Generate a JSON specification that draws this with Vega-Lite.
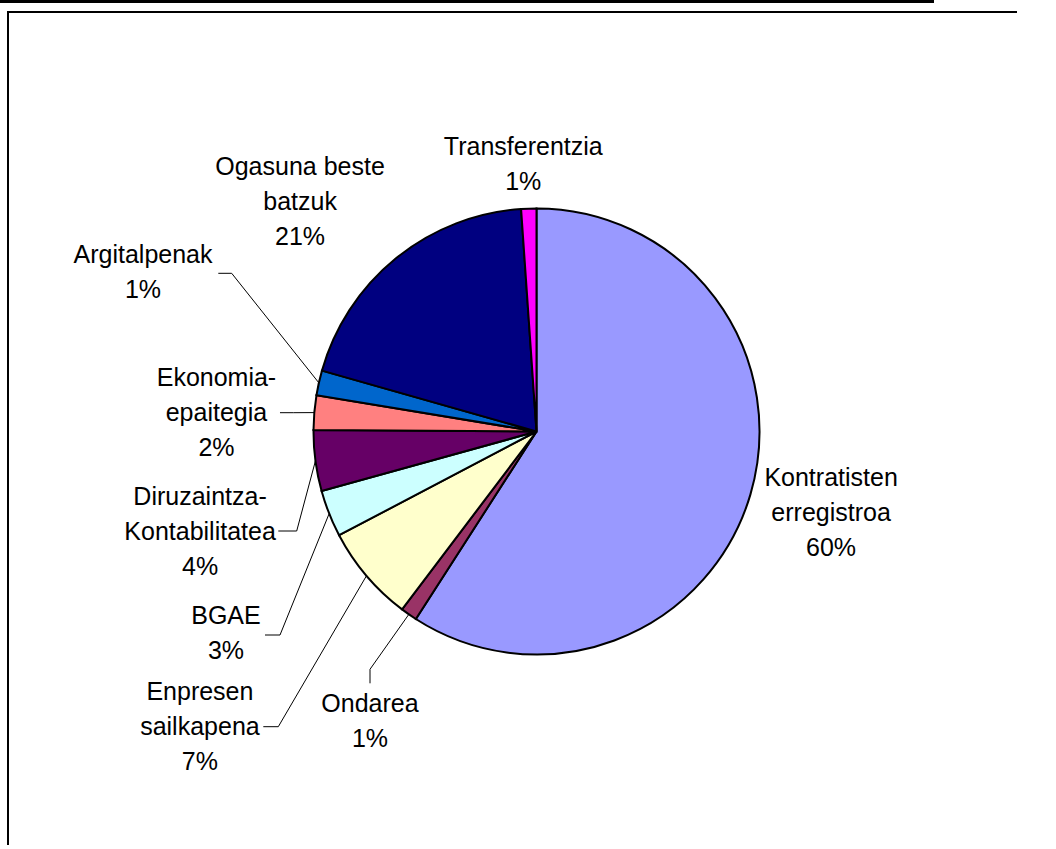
{
  "$schema": "https://vega.github.io/schema/vega-lite/v6.json",
  "padding": 0,
  "background": "white",
  "bounds": "flush",
  "spacing": 8,
  "config": {"view": {"stroke": null}, "text": {"font": "Liberation Sans", "fontSize": 25, "lineHeight": 35, "fill": "black", "lineBreak": "\n", "align": "center", "baseline": "middle"}},
  "datasets": {
    "slices": [
      {"order": 1, "name": "Kontratisten erregistroa", "value": 59.1, "label": "Kontratisten\nerregistroa\n60%"},
      {"order": 2, "name": "Ondarea", "value": 1.2, "label": "Ondarea\n1%"},
      {"order": 3, "name": "Enpresen sailkapena", "value": 7.0, "label": "Enpresen\nsailkapena\n7%"},
      {"order": 4, "name": "BGAE", "value": 3.4, "label": "BGAE\n3%"},
      {"order": 5, "name": "Diruzaintza-Kontabilitatea", "value": 4.4, "label": "Diruzaintza-\nKontabilitatea\n4%"},
      {"order": 6, "name": "Ekonomia-epaitegia", "value": 2.5, "label": "Ekonomia-\nepaitegia\n2%"},
      {"order": 7, "name": "Argitalpenak", "value": 1.8, "label": "Argitalpenak\n1%"},
      {"order": 8, "name": "Ogasuna beste batzuk", "value": 19.5, "label": "Ogasuna beste\nbatzuk\n21%"},
      {"order": 9, "name": "Transferentzia", "value": 1.1, "label": "Transferentzia\n1%"}
    ]
  },
  "vconcat": [
    {
      "width": 934, "height": 3,
      "view": {"fill": "black", "stroke": null},
      "data": {"values": []},
      "mark": {"type": "text", "text": ""},
      "encoding": {}
    },
    {
      "spacing": 6,
      "bounds": "flush",
      "hconcat": [
        {
          "width": 1, "height": 1,
          "view": {"stroke": null},
          "data": {"values": []},
          "mark": {"type": "text", "text": ""},
          "encoding": {}
        },
        {
          "spacing": 0,
          "bounds": "flush",
          "vconcat": [
            {
              "width": 1010, "height": 2,
              "view": {"fill": "black", "stroke": null},
              "data": {"values": []},
              "mark": {"type": "text", "text": ""},
              "encoding": {}
            },
            {
              "spacing": 0,
              "bounds": "flush",
              "hconcat": [
                {
                  "width": 2, "height": 832,
                  "view": {"fill": "black", "stroke": null},
                  "data": {"values": []},
                  "mark": {"type": "text", "text": ""},
                  "encoding": {}
                },
                {
                  "width": 1008, "height": 832,
                  "view": {"stroke": null},
                  "data": {"name": "slices"},
                  "transform": [
                    {"stack": "value", "groupby": [], "sort": [{"field": "order", "order": "ascending"}], "as": ["s0", "s1"]},
                    {"calculate": "(datum.s0 + datum.s1) / 2", "as": "mid"},
                    {"calculate": "PI * (datum.s0 + datum.s1) / 100", "as": "ang"}
                  ],
                  "layer": [
                    {
                      "mark": {"type": "arc", "outerRadius": 223, "x": 527.5, "y": 418.5, "stroke": "black", "strokeWidth": 2},
                      "encoding": {
                        "theta": {"field": "s0", "type": "quantitative", "scale": {"domain": [0, 100]}, "stack": null},
                        "theta2": {"field": "s1"},
                        "color": {
                          "field": "name", "type": "nominal", "legend": null,
                          "scale": {
                            "domain": ["Kontratisten erregistroa", "Ondarea", "Enpresen sailkapena", "BGAE", "Diruzaintza-Kontabilitatea", "Ekonomia-epaitegia", "Argitalpenak", "Ogasuna beste batzuk", "Transferentzia"],
                            "range": ["#9999FF", "#993366", "#FFFFCC", "#CCFFFF", "#660066", "#FF8080", "#0066CC", "#000080", "#FF00FF"]
                          }
                        }
                      }
                    },
                    {
                      "transform": [
                        {"filter": "indexof(['Argitalpenak', 'Ekonomia-epaitegia', 'Diruzaintza-Kontabilitatea', 'BGAE', 'Enpresen sailkapena', 'Ondarea'], datum.name) >= 0"},
                        {"calculate": "527.5 + 223 * sin(datum.ang)", "as": "ex"},
                        {"calculate": "418.5 - 223 * cos(datum.ang)", "as": "ey"},
                        {"calculate": "datum.name === 'Argitalpenak' ? 222.7 : datum.name === 'Ekonomia-epaitegia' ? 284.3 : datum.name === 'Diruzaintza-Kontabilitatea' ? 287.7 : datum.name === 'BGAE' ? 271 : datum.name === 'Enpresen sailkapena' ? 269.3 : 361", "as": "bx"},
                        {"calculate": "datum.name === 'Argitalpenak' ? 260.3 : datum.name === 'Ekonomia-epaitegia' ? 399.7 : datum.name === 'Diruzaintza-Kontabilitatea' ? 518 : datum.name === 'BGAE' ? 622 : datum.name === 'Enpresen sailkapena' ? 713.7 : 656.3", "as": "by"},
                        {"calculate": "datum.name === 'Argitalpenak' ? 209.3 : datum.name === 'Ekonomia-epaitegia' ? 271 : datum.name === 'Diruzaintza-Kontabilitatea' ? 269.3 : datum.name === 'BGAE' ? 256 : datum.name === 'Enpresen sailkapena' ? 254.3 : 361", "as": "tx"},
                        {"calculate": "datum.name === 'Ondarea' ? 670.3 : datum.by", "as": "ty"}
                      ],
                      "layer": [
                        {
                          "mark": {"type": "rule", "stroke": "black", "strokeWidth": 1},
                          "encoding": {
                            "x": {"field": "ex", "type": "quantitative", "scale": null},
                            "y": {"field": "ey", "type": "quantitative", "scale": null},
                            "x2": {"field": "bx"},
                            "y2": {"field": "by"}
                          }
                        },
                        {
                          "mark": {"type": "rule", "stroke": "black", "strokeWidth": 1},
                          "encoding": {
                            "x": {"field": "bx", "type": "quantitative", "scale": null},
                            "y": {"field": "by", "type": "quantitative", "scale": null},
                            "x2": {"field": "tx"},
                            "y2": {"field": "ty"}
                          }
                        }
                      ]
                    },
                    {
                      "transform": [{"filter": "datum.name === 'Kontratisten erregistroa'"}],
                      "mark": {"type": "text", "x": 527.5, "y": 418.5, "dx": 1, "dy": -40},
                      "encoding": {"theta": {"field": "mid", "type": "quantitative", "scale": {"domain": [0, 100]}, "stack": null}, "radius": {"value": 306}, "text": {"field": "label"}}
                    },
                    {
                      "transform": [{"filter": "datum.name === 'Transferentzia'"}],
                      "mark": {"type": "text", "x": 527.5, "y": 418.5, "dx": -4, "dy": -17.5},
                      "encoding": {"theta": {"field": "mid", "type": "quantitative", "scale": {"domain": [0, 100]}, "stack": null}, "radius": {"value": 267}, "text": {"field": "label"}}
                    },
                    {
                      "transform": [{"filter": "datum.name === 'Ogasuna beste batzuk'"}],
                      "mark": {"type": "text", "x": 527.5, "y": 418.5, "dx": -28.5, "dy": -8.6},
                      "encoding": {"theta": {"field": "mid", "type": "quantitative", "scale": {"domain": [0, 100]}, "stack": null}, "radius": {"value": 330}, "text": {"field": "label"}}
                    },
                    {
                      "transform": [{"filter": "datum.name === 'Argitalpenak'"}],
                      "mark": {"type": "text", "x": 527.5, "y": 418.5, "dx": 20.3, "dy": -84},
                      "encoding": {"theta": {"field": "mid", "type": "quantitative", "scale": {"domain": [0, 100]}, "stack": null}, "radius": {"value": 424}, "text": {"field": "label"}}
                    },
                    {
                      "transform": [{"filter": "datum.name === 'Ekonomia-epaitegia'"}],
                      "mark": {"type": "text", "x": 527.5, "y": 418.5, "dx": -1.2, "dy": -26.4},
                      "encoding": {"theta": {"field": "mid", "type": "quantitative", "scale": {"domain": [0, 100]}, "stack": null}, "radius": {"value": 320}, "text": {"field": "label"}}
                    },
                    {
                      "transform": [{"filter": "datum.name === 'Diruzaintza-Kontabilitatea'"}],
                      "mark": {"type": "text", "x": 527.5, "y": 418.5, "dx": 11.5, "dy": 19.3},
                      "encoding": {"theta": {"field": "mid", "type": "quantitative", "scale": {"domain": [0, 100]}, "stack": null}, "radius": {"value": 351}, "text": {"field": "label"}}
                    },
                    {
                      "transform": [{"filter": "datum.name === 'BGAE'"}],
                      "mark": {"type": "text", "x": 527.5, "y": 418.5, "dx": 34.4, "dy": 48.4},
                      "encoding": {"theta": {"field": "mid", "type": "quantitative", "scale": {"domain": [0, 100]}, "stack": null}, "radius": {"value": 371}, "text": {"field": "label"}}
                    },
                    {
                      "transform": [{"filter": "datum.name === 'Enpresen sailkapena'"}],
                      "mark": {"type": "text", "x": 527.5, "y": 418.5, "dx": 5, "dy": -29.8},
                      "encoding": {"theta": {"field": "mid", "type": "quantitative", "scale": {"domain": [0, 100]}, "stack": null}, "radius": {"value": 448}, "text": {"field": "label"}}
                    },
                    {
                      "transform": [{"filter": "datum.name === 'Ondarea'"}],
                      "mark": {"type": "text", "x": 527.5, "y": 418.5, "dx": 24.7, "dy": -1.4},
                      "encoding": {"theta": {"field": "mid", "type": "quantitative", "scale": {"domain": [0, 100]}, "stack": null}, "radius": {"value": 334}, "text": {"field": "label"}}
                    }
                  ]
                }
              ]
            }
          ]
        }
      ]
    }
  ]
}
